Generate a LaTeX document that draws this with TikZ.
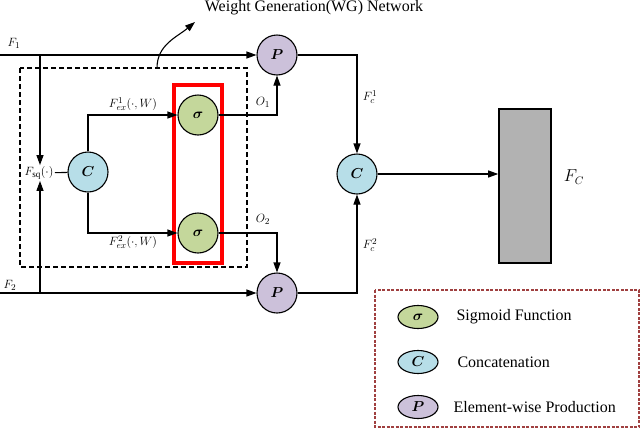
\documentclass[tikz,border=0pt]{standalone}
\usepackage{fontspec}
\setmainfont{Liberation Serif}
\usepackage{bm}
\usetikzlibrary{arrows.meta,shapes.geometric}
\definecolor{sigc}{RGB}{196,215,155}
\definecolor{catc}{RGB}{183,222,232}
\definecolor{prodc}{RGB}{204,193,218}
\definecolor{legc}{RGB}{160,64,64}
\tikzstyle{op} = [
  circle,
  draw=black,
  minimum size=40pt,
  inner sep=0pt,
  font=\fontsize{14}{16}\selectfont,
]
\tikzstyle{legop} = [
  ellipse,
  draw=black,
  minimum width=40pt,
  minimum height=23pt,
  inner sep=0pt,
  font=\fontsize{14}{16}\selectfont,
]
\tikzstyle{flow} = [-{Triangle[length=10pt,width=7pt]}]
\tikzstyle{lbl} = [font=\fontsize{13}{15}\selectfont, inner sep=1pt]
\tikzstyle{txt} = [font=\fontsize{16}{18}\selectfont, inner sep=0pt]

\begin{document}
\begin{tikzpicture}[x=1pt,y=-1pt,line width=1.1pt]
      \useasboundingbox (0,0) rectangle (640,429);

      \coordinate (F1in) at (0,55);
      \coordinate (F2in) at (0,293);
      \coordinate (B1) at (40,55);
      \coordinate (B2) at (40,293);
      \coordinate (WGtop) at (157,68);
      \coordinate (WGtip) at (195,22);

      % Boxes
      \draw[line width=2.4pt, dash pattern=on 5pt off 3pt] (20,68) rectangle (247,267);
      \draw[red, line width=3.8pt] (174,85) rectangle (222,263);

      % Circles
      \node[op, fill=sigc] (S1) at (198,115) {$\bm{\sigma}$};
      \node[op, fill=sigc] (S2) at (198,233) {$\bm{\sigma}$};
      \node[op, fill=catc] (C1) at (88,172) {$\bm{C}$};
      \node[op, fill=catc] (C2) at (357,174) {$\bm{C}$};
      \node[op, fill=prodc] (P1) at (277,55) {$\bm{P}$};
      \node[op, fill=prodc] (P2) at (277,293) {$\bm{P}$};
      \node[draw, fill=black!30, line width=1.6pt, minimum width=52pt,
        minimum height=154pt] (FC) at (525,186) {};
      \node[lbl] (Fsq) at (39,173) {$F_{\mathrm{sq}}(\cdot)$};

      % Connections
      \draw[flow] (F1in) -- (P1.west);
      \draw[flow] (F2in) -- (P2.west);
      \draw[flow] (B1) -- (B1 |- Fsq.north);
      \draw[flow] (B2) -- (B2 |- Fsq.south);
      \draw (Fsq) -- (C1);
      \draw[flow] (C1.north) |- (S1.west);
      \draw[flow] (C1.south) |- (S2.west);
      \draw[flow] (S1.east) -| (P1.south);
      \draw[flow] (S2.east) -| (P2.north);
      \draw[flow] (P1.east) -| (C2.north);
      \draw[flow] (P2.east) -| (C2.south);
      \draw[flow] (C2) -- (C2 -| FC.west);
      \draw[flow] (WGtop) to[out=90,in=-140] (WGtip);

      % Labels
      \node[lbl] at (14,43) {$F_1$};
      \node[lbl] at (10,285) {$F_2$};
      \node[lbl] at (133,104) {$F^1_{ex}(\cdot,W)$};
      \node[lbl] at (133,242) {$F^2_{ex}(\cdot,W)$};
      \node[lbl] at (263,102) {$O_1$};
      \node[lbl] at (263,219) {$O_2$};
      \node[lbl] at (370,97) {$F^1_c$};
      \node[lbl] at (370,245) {$F^2_c$};
      \node[txt] at (574,177) {$F_C$};
      \node[txt] (WG) at (314,8) {Weight Generation(WG) Network};

      % Legend
      \draw[legc, line width=1.2pt, dash pattern=on 3pt off 1.5pt] (375,290) rectangle (639,427);
      \node[legop, fill=sigc] (Lsig) at (418,317) {$\bm{\sigma}$};
      \node[legop, fill=catc] (Lcat) at (418,362) {$\bm{C}$};
      \node[legop, fill=prodc] (Lprod) at (418,407) {$\bm{P}$};
      \node[txt, anchor=west] at (456,317) {Sigmoid Function};
      \node[txt, anchor=west] at (457,362) {Concatenation};
      \node[txt, anchor=west] at (453,407) {Element-wise Production};
    \end{tikzpicture}
\end{document}
